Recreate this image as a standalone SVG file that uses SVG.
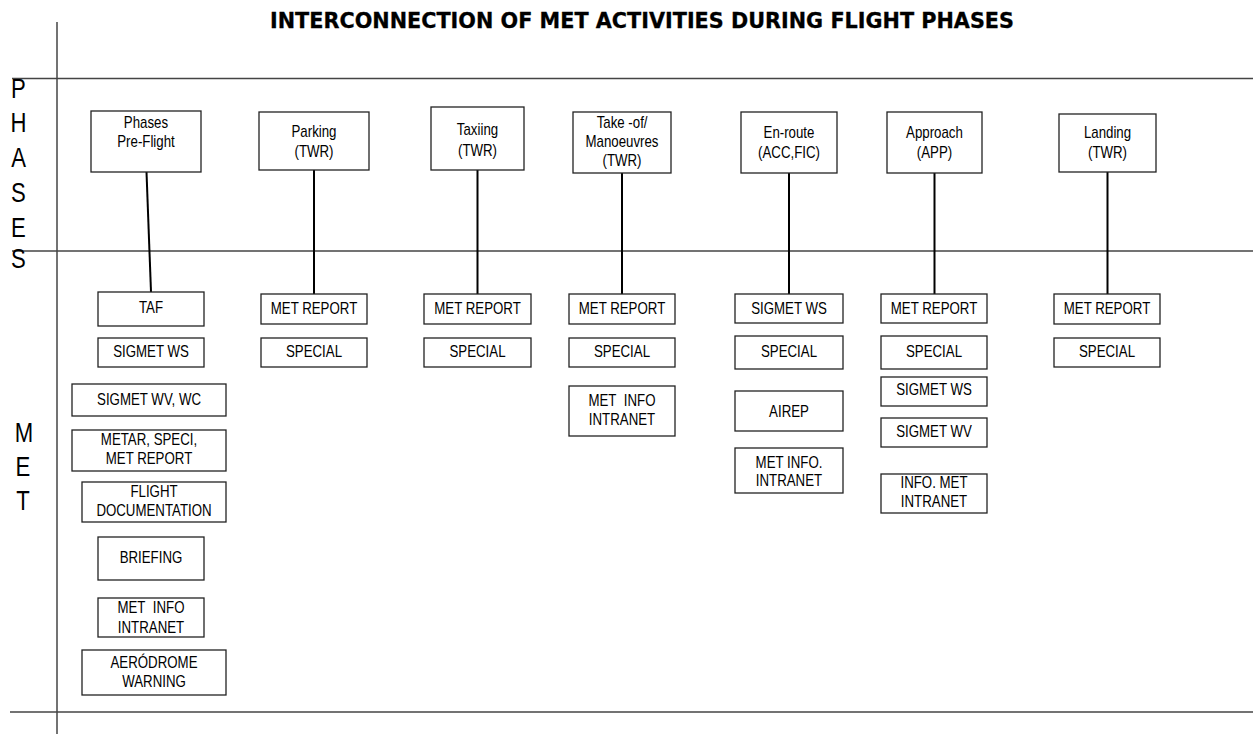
<svg xmlns="http://www.w3.org/2000/svg" width="1253" height="735" viewBox="0 0 1253 735">
<style>
.bg{fill:#fff}
.frame{stroke:#444;stroke-width:1.5;fill:none}
.box{fill:#fff;stroke:#222;stroke-width:1.3}
.conn{stroke:#000;stroke-width:2;fill:none}
.t{font-family:"Liberation Sans",Arial,sans-serif;font-size:16px;fill:#000;text-anchor:middle;transform-box:fill-box;transform-origin:center;transform:scaleX(0.83)}
.side{font-family:"Liberation Sans",Arial,sans-serif;font-size:27px;fill:#000;text-anchor:middle;transform-box:fill-box;transform-origin:center;transform:scaleX(0.82)}
.title{font-family:"DejaVu Sans",Verdana,sans-serif;font-size:21px;font-weight:bold;fill:#000;stroke:#000;stroke-width:0.3}
</style>
<rect class="bg" x="0" y="0" width="1253" height="735"/>
<g id="frame">
<line class="frame" x1="57" y1="22" x2="57" y2="734"/>
<line class="frame" x1="12" y1="78.5" x2="1253" y2="78.5"/>
<line class="frame" x1="12" y1="251" x2="1253" y2="251"/>
<line class="frame" x1="10" y1="712" x2="1253" y2="712"/>
</g>
<text id="title" class="title" x="270" y="28" textLength="744" lengthAdjust="spacingAndGlyphs">INTERCONNECTION OF MET ACTIVITIES DURING FLIGHT PHASES</text>
<g id="side-phases">
<text class="side" x="18.5" y="98">P</text>
<text class="side" x="18.5" y="132">H</text>
<text class="side" x="18.5" y="167">A</text>
<text class="side" x="18.5" y="202">S</text>
<text class="side" x="18.5" y="237">E</text>
<text class="side" x="18.5" y="268">S</text>
</g>
<g id="side-met">
<text class="side" x="24" y="442">M</text>
<text class="side" x="23" y="476">E</text>
<text class="side" x="23" y="510">T</text>
</g>
<g id="connectors">
<line class="conn" x1="146.5" y1="172" x2="151" y2="292"/>
<line class="conn" x1="314" y1="170" x2="314" y2="294"/>
<line class="conn" x1="477.5" y1="170" x2="477.5" y2="294"/>
<line class="conn" x1="622" y1="173" x2="622" y2="294"/>
<line class="conn" x1="789" y1="173" x2="789" y2="294"/>
<line class="conn" x1="934.5" y1="173" x2="934.5" y2="294"/>
<line class="conn" x1="1107.5" y1="172" x2="1107.5" y2="294"/>
</g>
<g id="phase-preflight"><rect class="box" x="91" y="111" width="110" height="61"/><text class="t" x="146" y="128">Phases</text><text class="t" x="146" y="147.5">Pre-Flight</text></g>
<g id="phase-parking"><rect class="box" x="259" y="112" width="110" height="58"/><text class="t" x="314" y="137">Parking</text><text class="t" x="314" y="157">(TWR)</text></g>
<g id="phase-taxiing"><rect class="box" x="431" y="107" width="93" height="63"/><text class="t" x="477.5" y="135">Taxiing</text><text class="t" x="477.5" y="156">(TWR)</text></g>
<g id="phase-takeoff"><rect class="box" x="573" y="112" width="98" height="61"/><text class="t" x="622" y="128">Take -of/</text><text class="t" x="622" y="147">Manoeuvres</text><text class="t" x="622" y="166">(TWR)</text></g>
<g id="phase-enroute"><rect class="box" x="741" y="112" width="96" height="61"/><text class="t" x="789" y="138">En-route</text><text class="t" x="789" y="158">(ACC,FIC)</text></g>
<g id="phase-approach"><rect class="box" x="887" y="112" width="95" height="61"/><text class="t" x="934.5" y="138">Approach</text><text class="t" x="934.5" y="158">(APP)</text></g>
<g id="phase-landing"><rect class="box" x="1059" y="114" width="97" height="58"/><text class="t" x="1107.5" y="138">Landing</text><text class="t" x="1107.5" y="158">(TWR)</text></g>
<g id="pre-taf"><rect class="box" x="98" y="292" width="106" height="34"/><text class="t" x="151" y="313">TAF</text></g>
<g id="pre-sigmet-ws"><rect class="box" x="98" y="338" width="106" height="29"/><text class="t" x="151" y="357">SIGMET WS</text></g>
<g id="pre-sigmet-wv"><rect class="box" x="72" y="384" width="154" height="32"/><text class="t" x="149" y="405">SIGMET WV, WC</text></g>
<g id="pre-metar"><rect class="box" x="72" y="430" width="154" height="41"/><text class="t" x="149" y="445">METAR, SPECI,</text><text class="t" x="149" y="464">MET REPORT</text></g>
<g id="pre-flightdoc"><rect class="box" x="82" y="482" width="144" height="40"/><text class="t" x="154" y="497">FLIGHT</text><text class="t" x="154" y="516">DOCUMENTATION</text></g>
<g id="pre-briefing"><rect class="box" x="98" y="537" width="106" height="43"/><text class="t" x="151" y="563">BRIEFING</text></g>
<g id="pre-metinfo"><rect class="box" x="98" y="598" width="106" height="39"/><text class="t" x="151" y="613">MET&#160; INFO</text><text class="t" x="151" y="633">INTRANET</text></g>
<g id="pre-aerodrome"><rect class="box" x="82" y="650" width="144" height="45"/><text class="t" x="154" y="668">AERÓDROME</text><text class="t" x="154" y="687">WARNING</text></g>
<g id="park-metreport"><rect class="box" x="261" y="294" width="106" height="30"/><text class="t" x="314" y="314">MET REPORT</text></g>
<g id="park-special"><rect class="box" x="261" y="338" width="106" height="29"/><text class="t" x="314" y="357">SPECIAL</text></g>
<g id="taxi-metreport"><rect class="box" x="424" y="294" width="107" height="30"/><text class="t" x="477.5" y="314">MET REPORT</text></g>
<g id="taxi-special"><rect class="box" x="424" y="338" width="107" height="29"/><text class="t" x="477.5" y="357">SPECIAL</text></g>
<g id="to-metreport"><rect class="box" x="569" y="294" width="106" height="30"/><text class="t" x="622" y="314">MET REPORT</text></g>
<g id="to-special"><rect class="box" x="569" y="338" width="106" height="29"/><text class="t" x="622" y="357">SPECIAL</text></g>
<g id="to-metinfo"><rect class="box" x="569" y="386" width="106" height="50"/><text class="t" x="622" y="406">MET&#160; INFO</text><text class="t" x="622" y="425">INTRANET</text></g>
<g id="er-sigmet-ws"><rect class="box" x="735" y="294" width="108" height="29"/><text class="t" x="789" y="314">SIGMET WS</text></g>
<g id="er-special"><rect class="box" x="735" y="336" width="108" height="33"/><text class="t" x="789" y="357">SPECIAL</text></g>
<g id="er-airep"><rect class="box" x="735" y="391" width="108" height="40"/><text class="t" x="789" y="417">AIREP</text></g>
<g id="er-metinfo"><rect class="box" x="735" y="448" width="108" height="45"/><text class="t" x="789" y="468">MET INFO.</text><text class="t" x="789" y="486">INTRANET</text></g>
<g id="app-metreport"><rect class="box" x="881" y="294" width="106" height="29"/><text class="t" x="934" y="314">MET REPORT</text></g>
<g id="app-special"><rect class="box" x="881" y="336" width="106" height="33"/><text class="t" x="934" y="357">SPECIAL</text></g>
<g id="app-sigmet-ws"><rect class="box" x="881" y="377" width="106" height="29"/><text class="t" x="934" y="395">SIGMET WS</text></g>
<g id="app-sigmet-wv"><rect class="box" x="881" y="418" width="106" height="29"/><text class="t" x="934" y="437">SIGMET WV</text></g>
<g id="app-infomet"><rect class="box" x="881" y="474" width="106" height="39"/><text class="t" x="934" y="488">INFO. MET</text><text class="t" x="934" y="507">INTRANET</text></g>
<g id="land-metreport"><rect class="box" x="1054" y="294" width="106" height="30"/><text class="t" x="1107" y="314">MET REPORT</text></g>
<g id="land-special"><rect class="box" x="1054" y="338" width="106" height="29"/><text class="t" x="1107" y="357">SPECIAL</text></g>
</svg>
